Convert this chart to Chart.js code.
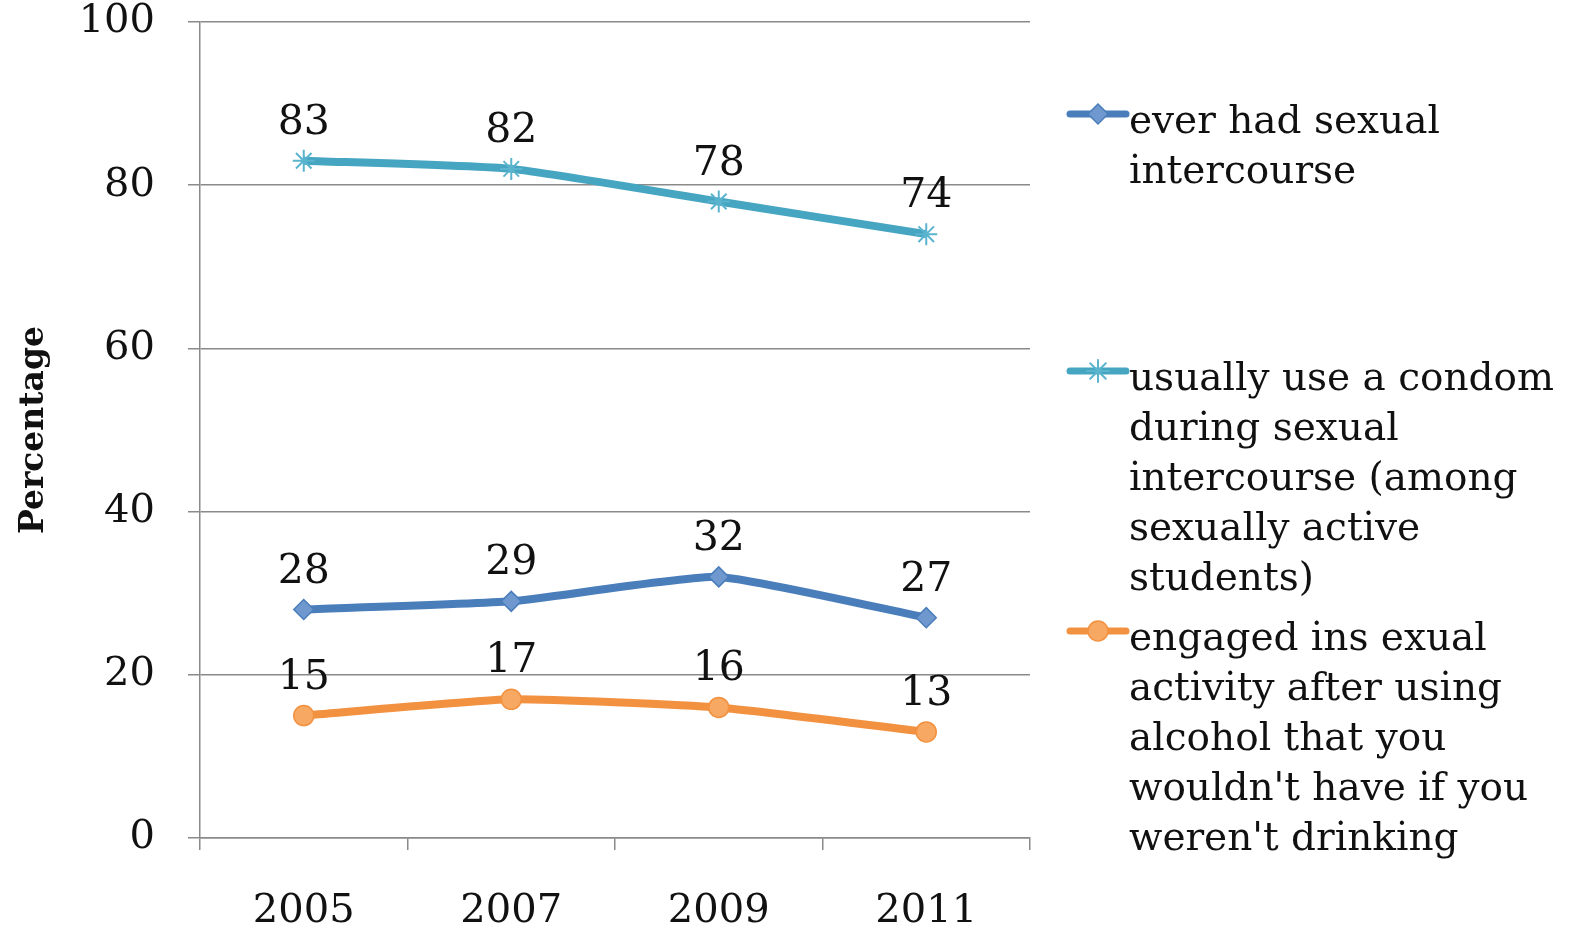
<!DOCTYPE html>
<html>
<head>
<meta charset="utf-8">
<script src="https://cdn.jsdelivr.net/npm/chart.js@4/dist/chart.umd.min.js"></script>
<style>
  html, body { margin: 0; padding: 0; background: #ffffff; }
  #wrap { width: 1577px; height: 929px; position: relative; }
</style>
</head>
<body>
<div id="wrap"><canvas id="chartCanvas"></canvas></div>
<script>
// chart values
const years = ['2005', '2007', '2009', '2011'];
const everHadSex = [28, 29, 32, 27];
const condomUse = [83, 82, 78, 74];
const alcoholSex = [15, 17, 16, 13];
const yTicks = [0, 20, 40, 60, 80, 100];

// legend labels, broken the way the original wraps them
const legendLines = [
    ['ever had sexual', 'intercourse'],
    ['usually use a condom', 'during sexual', 'intercourse (among', 'sexually active', 'students)'],
    ['engaged ins exual', 'activity after using', 'alcohol that you', "wouldn't have if you", "weren't drinking"]
];

const FONT = "'DejaVu Serif', serif";

function drawMarker(ctx, style, x, y, r, fill, stroke) {
    ctx.save();
    ctx.fillStyle = fill;
    ctx.strokeStyle = stroke;
    ctx.lineWidth = 1.5;
    ctx.beginPath();
    if (style === 'rectRot') {
        ctx.moveTo(x, y - r);
        ctx.lineTo(x + r, y);
        ctx.lineTo(x, y + r);
        ctx.lineTo(x - r, y);
        ctx.closePath();
        ctx.fill();
        ctx.stroke();
    } else if (style === 'circle') {
        ctx.arc(x, y, r, 0, Math.PI * 2);
        ctx.fill();
        ctx.stroke();
    } else {
        // star: plus and cross
        const d = r * Math.SQRT1_2;
        ctx.lineWidth = 2;
        ctx.moveTo(x - r, y); ctx.lineTo(x + r, y);
        ctx.moveTo(x, y - r); ctx.lineTo(x, y + r);
        ctx.moveTo(x - d, y - d); ctx.lineTo(x + d, y + d);
        ctx.moveTo(x - d, y + d); ctx.lineTo(x + d, y - d);
        ctx.stroke();
    }
    ctx.restore();
}

// value labels above each point
const valueLabels = {
    id: 'valueLabels',
    afterDatasetsDraw(chart) {
        const ctx = chart.ctx;
        ctx.save();
        ctx.font = '41px ' + FONT;
        ctx.fillStyle = '#111';
        ctx.textAlign = 'center';
        ctx.textBaseline = 'alphabetic';
        chart.data.datasets.forEach((ds, i) => {
            const meta = chart.getDatasetMeta(i);
            meta.data.forEach((pt, j) => {
                ctx.fillText(String(ds.data[j]), pt.x, pt.y - 27);
            });
        });
        ctx.restore();
    }
};

// legend at the right, multi-line entries
const sideLegend = {
    id: 'sideLegend',
    afterDraw(chart) {
        const ctx = chart.ctx;
        const baselines = [133, 390, 650];
        ctx.save();
        chart.data.datasets.forEach((ds, i) => {
            const sy = baselines[i] - 19;
            ctx.strokeStyle = ds.borderColor;
            ctx.lineWidth = 7;
            ctx.lineCap = 'round';
            ctx.beginPath();
            ctx.moveTo(1070, sy);
            ctx.lineTo(1126, sy);
            ctx.stroke();
            drawMarker(ctx, ds.pointStyle, 1098, sy, ds.pointRadius, ds.pointBackgroundColor, ds.pointBorderColor);
            ctx.font = '39px ' + FONT;
            ctx.fillStyle = '#111';
            ctx.textAlign = 'left';
            ctx.textBaseline = 'alphabetic';
            legendLines[i].forEach((line, k) => {
                ctx.fillText(line, 1129, baselines[i] + k * 50);
            });
        });
        ctx.restore();
    }
};

const ctx = document.getElementById('chartCanvas').getContext('2d');
new Chart(ctx, {
    type: 'line',
    data: {
        labels: years,
        datasets: [{
            label: 'ever had sexual intercourse',
            data: everHadSex,
            borderColor: '#4A7EBB',
            borderWidth: 8,
            pointStyle: 'rectRot',
            pointRadius: 10,
            pointBackgroundColor: '#6F98CF',
            pointBorderColor: '#4A7EBB',
            pointBorderWidth: 1.5,
            tension: 0.15
        }, {
            label: 'usually use a condom during sexual intercourse (among sexually active students)',
            data: condomUse,
            borderColor: '#46A6C2',
            borderWidth: 8,
            pointStyle: 'star',
            pointRadius: 11,
            pointBackgroundColor: '#46A6C2',
            pointBorderColor: '#5BB4CE',
            pointBorderWidth: 2,
            tension: 0.15
        }, {
            label: "engaged ins exual activity after using alcohol that you wouldn't have if you weren't drinking",
            data: alcoholSex,
            borderColor: '#F2913F',
            borderWidth: 8,
            pointStyle: 'circle',
            pointRadius: 10,
            pointBackgroundColor: '#F7A862',
            pointBorderColor: '#F2913F',
            pointBorderWidth: 1.5,
            tension: 0.15
        }]
    },
    options: {
        responsive: true,
        maintainAspectRatio: false,
        animation: false,
        layout: { padding: { top: 22, right: 547, left: 0, bottom: 0 } },
        plugins: {
            legend: { display: false },
            tooltip: { enabled: false }
        },
        scales: {
            x: {
                offset: true,
                grid: {
                    offset: true,
                    drawOnChartArea: false,
                    drawTicks: true,
                    tickLength: 12,
                    color: '#8a8a8a',
                    lineWidth: 1.5
                },
                border: { color: '#8a8a8a', width: 1.5 },
                ticks: {
                    color: '#111',
                    font: { family: FONT, size: 40 },
                    padding: 38,
                    maxRotation: 0
                },
                afterFit(scale) {
                    scale.height = 91;
                    scale.paddingLeft = 0;
                    scale.paddingRight = 0;
                }
            },
            y: {
                min: 0,
                max: 100,
                afterBuildTicks(scale) {
                    scale.ticks = yTicks.map(v => ({ value: v }));
                },
                grid: {
                    color: '#8a8a8a',
                    lineWidth: 1.5,
                    tickLength: 12
                },
                border: { color: '#8a8a8a', width: 1.5 },
                ticks: {
                    color: '#111',
                    font: { family: FONT, size: 40 },
                    padding: 33
                },
                title: {
                    display: true,
                    text: 'Percentage',
                    color: '#111',
                    font: { family: FONT, size: 33, weight: 'bold' },
                    padding: { top: 15, bottom: 0 }
                },
                afterFit(scale) {
                    scale.width = 200;
                    scale.paddingTop = 0;
                    scale.paddingBottom = 0;
                }
            }
        }
    },
    plugins: [valueLabels, sideLegend]
});
</script>
</body>
</html>
